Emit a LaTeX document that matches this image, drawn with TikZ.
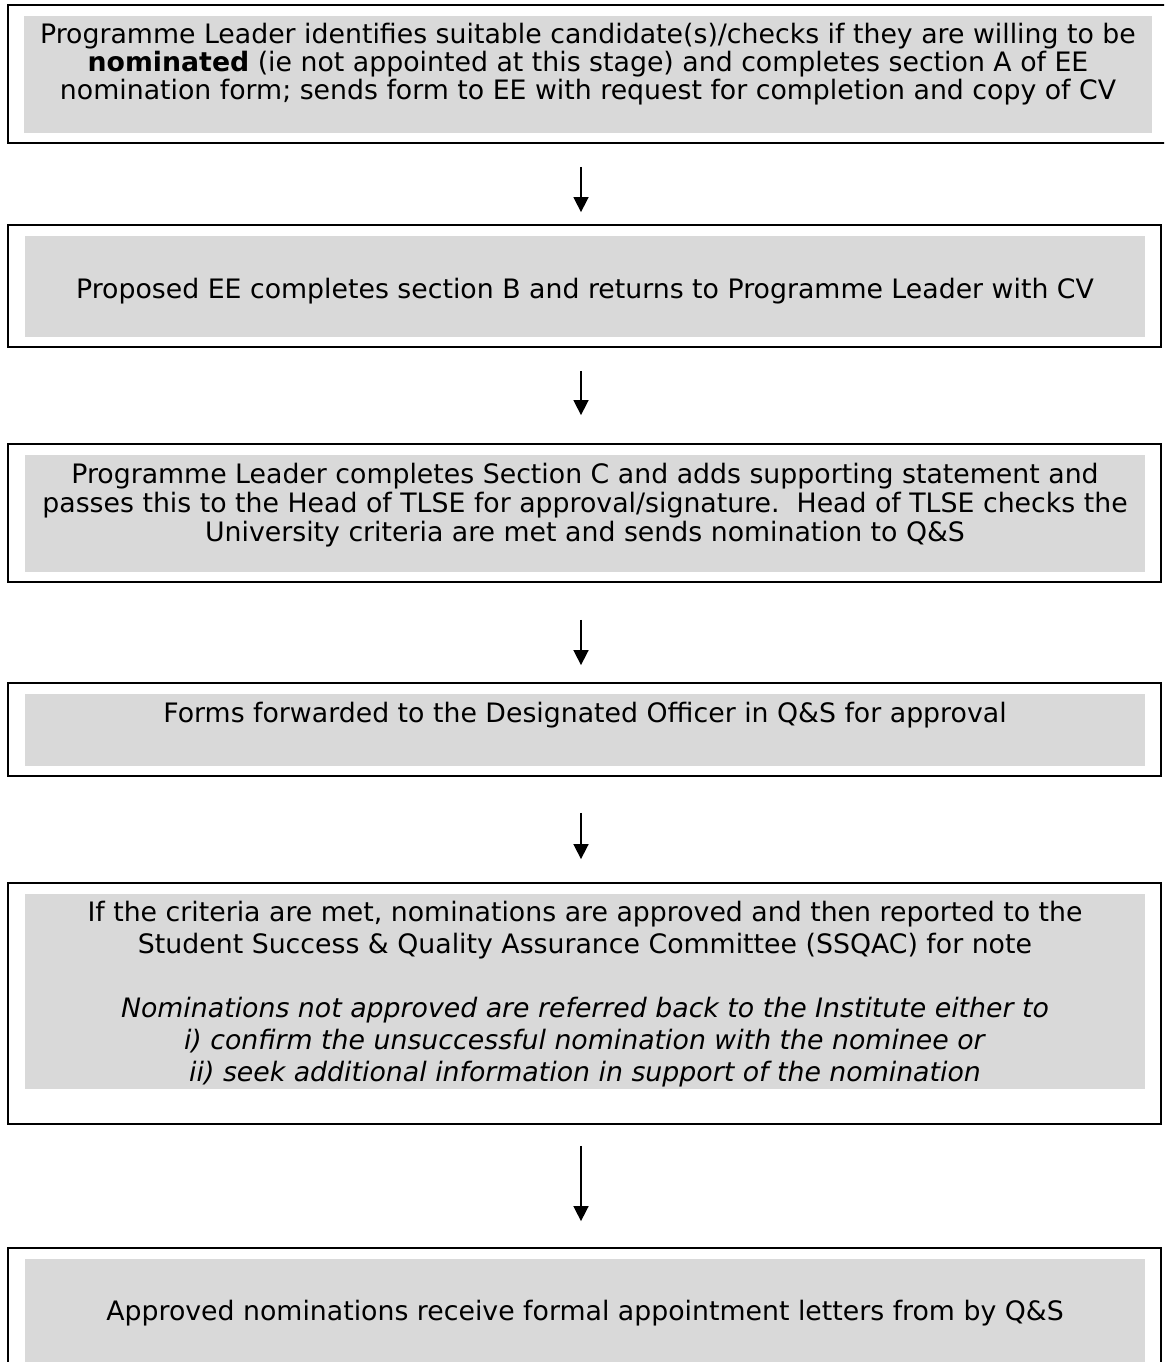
\documentclass[tikz,border=0pt]{standalone}
\usepackage{fontspec}
\setmainfont{DejaVu Sans}
\usetikzlibrary{arrows.meta}
\definecolor{boxgray}{HTML}{D9D9D9}
\tikzset{
  outerbox/.style={draw=black, line width=1.8pt, inner sep=0pt, fill=white},
  graybox/.style={fill=boxgray, inner sep=0pt},
  txt/.style={anchor=north, inner sep=0pt, align=center, font=\fontsize{26.75}{#1}\selectfont},
  arr/.style={line width=1.6pt, -{Triangle[width=15pt,length=15pt]}},
}
\begin{document}
\begin{tikzpicture}[x=1pt,y=-1pt]
\useasboundingbox (0,0) rectangle (1164,1362);
\clip (0,0) rectangle (1164,1362);
% outer boxes
\node[outerbox, minimum width=1164pt, minimum height=138pt] (b1) at (590,74) {};
\node[outerbox, minimum width=1153pt, minimum height=122pt] (b2) at (584.5,286) {};
\node[outerbox, minimum width=1153pt, minimum height=138pt] (b3) at (584.5,513) {};
\node[outerbox, minimum width=1153pt, minimum height=93pt] (b4) at (584.5,729.5) {};
\node[outerbox, minimum width=1153pt, minimum height=241pt] (b5) at (584.5,1003.5) {};
\node[outerbox, minimum width=1153pt, minimum height=132pt] (b6) at (584.5,1314) {};
% gray panels
\node[graybox, minimum width=1128pt, minimum height=117pt] (g1) at (588,74.5) {};
\node[graybox, minimum width=1120pt, minimum height=101pt] (g2) at (585,286.5) {};
\node[graybox, minimum width=1120pt, minimum height=117pt] (g3) at (585,513.5) {};
\node[graybox, minimum width=1120pt, minimum height=72pt] (g4) at (585,730) {};
\node[graybox, minimum width=1120pt, minimum height=195pt] (g5) at (585,991.5) {};
\node[graybox, minimum width=1120pt, minimum height=121pt] (g6) at (585,1319.5) {};
% texts
\node[txt=28] (t1) at (588,22.7) {Programme Leader identifies suitable candidate(s)/checks if they are willing to be\\
\textbf{nominated} (ie not appointed at this stage) and completes section A of EE\\
nomination form; sends form to EE with request for completion and copy of CV};
\node[txt=29] (t2) at (585,277.7) {Proposed EE completes section B and returns to Programme Leader with CV};
\node[txt=29] (t3) at (585,462.7) {Programme Leader completes Section C and adds supporting statement and\\
passes this to the Head of TLSE for approval/signature.\ \ Head of TLSE checks the\\
University criteria are met and sends nomination to Q\&S};
\node[txt=29] (t4) at (585,701.7) {Forms forwarded to the Designated Officer in Q\&S for approval};
\node[txt=32] (t5) at (585,900.7) {If the criteria are met, nominations are approved and then reported to the\\
Student Success \& Quality Assurance Committee (SSQAC) for note\\[32pt]
\textit{Nominations not approved are referred back to the Institute either to}\\
\textit{i) confirm the unsuccessful nomination with the nominee or}\\
\textit{ii) seek additional information in support of the nomination}};
\node[txt=29] (t6) at (585,1299.7) {Approved nominations receive formal appointment letters from by Q\&S};
% arrows
\coordinate (ax) at (581,0);
\draw[arr, shorten <=23pt, shorten >=12pt] (b1.south -| ax) -- (b2.north -| ax);
\draw[arr, shorten <=23pt, shorten >=28pt] (b2.south -| ax) -- (b3.north -| ax);
\draw[arr, shorten <=37pt, shorten >=17pt] (b3.south -| ax) -- (b4.north -| ax);
\draw[arr, shorten <=36pt, shorten >=23pt] (b4.south -| ax) -- (b5.north -| ax);
\draw[arr, shorten <=21pt, shorten >=26pt] (b5.south -| ax) -- (b6.north -| ax);
\end{tikzpicture}
\end{document}
